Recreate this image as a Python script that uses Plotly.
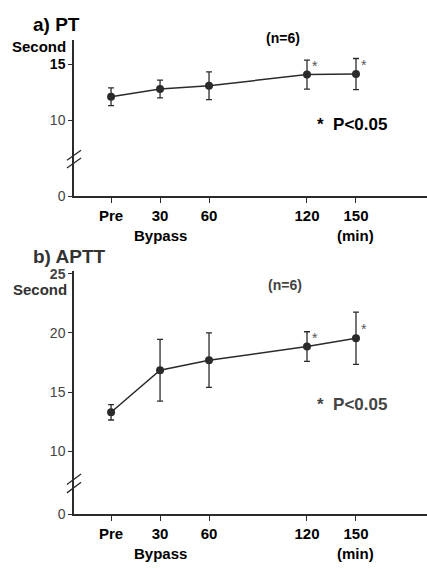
import plotly.graph_objects as go

# ---- data ----
time_min = [0, 30, 60, 120, 150]
tick_labels = ["Pre", "30", "60", "120", "150"]
pt_mean = [12.1, 12.8, 13.1, 14.1, 14.15]
pt_err = [0.8, 0.8, 1.25, 1.3, 1.4]
aptt_mean = [13.3, 16.85, 17.7, 18.85, 19.55]
aptt_err = [0.65, 2.6, 2.3, 1.25, 2.2]
pt_sig = [False, False, False, True, True]
aptt_sig = [False, False, False, True, True]

W, H = 427, 569
def px_x(x): return x / W
def px_y(y): return 1 - y / H

LINE = "#2b2b2b"
FONT = "Liberation Sans, Arial, sans-serif"

fig = go.Figure()

def add_series(mean, err, xa, ya):
    fig.add_trace(go.Scatter(
        x=time_min, y=mean, xaxis=xa, yaxis=ya, mode="lines+markers",
        line=dict(color=LINE, width=1.5),
        marker=dict(color=LINE, size=8),
        error_y=dict(type="data", array=err, visible=True, color=LINE, thickness=1.3, width=3),
        showlegend=False, hoverinfo="skip"))

add_series(pt_mean, pt_err, "x", "y")
add_series(aptt_mean, aptt_err, "x2", "y2")

# Y axis mapping (broken axis: "0" drawn at the bottom of the visible range)
pt_zero = 3.16
pt_top = 17.2
aptt_zero = 4.7
aptt_top = 25.2

xrange = [-22.7, 193.5]

def xaxis_cfg(domain_y_anchor):
    return dict(domain=[px_x(74), 1.0], range=xrange, anchor=domain_y_anchor,
                showline=True, linecolor=LINE, linewidth=1.5, ticks="outside",
                ticklen=5, tickwidth=1.3, tickcolor=LINE,
                tickvals=time_min, ticktext=[f"<b>{t}</b>" for t in tick_labels],
                tickfont=dict(family=FONT, size=15, color="#000"),
                showgrid=False, zeroline=False)

fig.update_layout(
    width=W, height=H, margin=dict(l=0, r=0, t=0, b=0),
    paper_bgcolor="white", plot_bgcolor="white",
    xaxis=xaxis_cfg("y"),
    yaxis=dict(domain=[px_y(195), px_y(35)], range=[pt_zero, pt_top], anchor="x",
               showline=True, linecolor=LINE, linewidth=1.5, ticks="outside",
               ticklen=4, tickwidth=1.3, tickcolor=LINE,
               tickvals=[pt_zero, 10, 15],
               ticktext=["<span style='color:#444'>0</span>",
                         "<span style='color:#444'>10</span>", "<b>15</b>"],
               tickfont=dict(family=FONT, size=14, color="#000"),
               showgrid=False, zeroline=False),
    xaxis2=xaxis_cfg("y2"),
    yaxis2=dict(domain=[px_y(521), px_y(272)], range=[aptt_zero, aptt_top], anchor="x2",
                showline=True, linecolor=LINE, linewidth=1.5, ticks="outside",
                ticklen=4, tickwidth=1.3, tickcolor=LINE,
                tickvals=[aptt_zero, 10, 15, 20, 25],
                ticktext=["0", "10", "15", "20", "<b>25</b>"],
                tickfont=dict(family=FONT, size=14, color="#444"),
                showgrid=False, zeroline=False),
)

# break marks on y axes
for ya, yb in (("y", 6.5), ("y2", 7.3)):
    for d in (-0.35, 0.35):
        fig.add_shape(type="line", xref=("x" if ya == "y" else "x2") + " domain", yref=ya,
                      x0=-0.02, x1=0.02, y0=yb - 0.45 + d, y1=yb + 0.45 + d,
                      line=dict(color=LINE, width=1.3))

ann = []
def txt(text, x, y, size, color="#000", xanchor="left", bold=True):
    ann.append(dict(text=(f"<b>{text}</b>" if bold else text), x=px_x(x), y=px_y(y),
                    xref="paper", yref="paper", showarrow=False, xanchor=xanchor,
                    yanchor="middle", font=dict(family=FONT, size=size, color=color)))

txt("a) PT", 31, 19, 19)
txt("Second", 68, 42, 15, xanchor="right")
txt("(n=6)", 283, 33, 14, xanchor="center")
txt("*  P&lt;0.05", 315, 122, 17)

txt("b) APTT", 31, 257, 19, color="#333")
txt("Second", 69, 291, 15, color="#333", xanchor="right")
txt("(n=6)", 285, 286, 14, color="#444", xanchor="center")
txt("*  P&lt;0.05", 315, 409, 17, color="#444")

# Bypass / (min) labels under ticks
for xa, yy in (("x", 235), ("x2", 561)):
    ann.append(dict(text="<b>Bypass</b>", x=time_min[1], y=px_y(yy), xref=xa, yref="paper",
                    showarrow=False, xanchor="center", yanchor="middle",
                    font=dict(family=FONT, size=15, color="#000")))
    ann.append(dict(text="<b>(min)</b>", x=time_min[4], y=px_y(yy), xref=xa, yref="paper",
                    showarrow=False, xanchor="center", yanchor="middle",
                    font=dict(family=FONT, size=15, color="#000")))

# significance asterisks
for xa, ya, mean, sig in (("x", "y", pt_mean, pt_sig), ("x2", "y2", aptt_mean, aptt_sig)):
    for t, m, s in zip(time_min, mean, sig):
        if s:
            ann.append(dict(text="*", x=t, y=m, xref=xa, yref=ya, showarrow=False,
                            xshift=8, yshift=9, font=dict(family=FONT, size=14, color="#555")))

fig.update_layout(annotations=ann)
fig.write_html("out.html", config={"displayModeBar": False},
               post_script="document.body.style.margin='0';document.body.style.overflow='hidden';")
